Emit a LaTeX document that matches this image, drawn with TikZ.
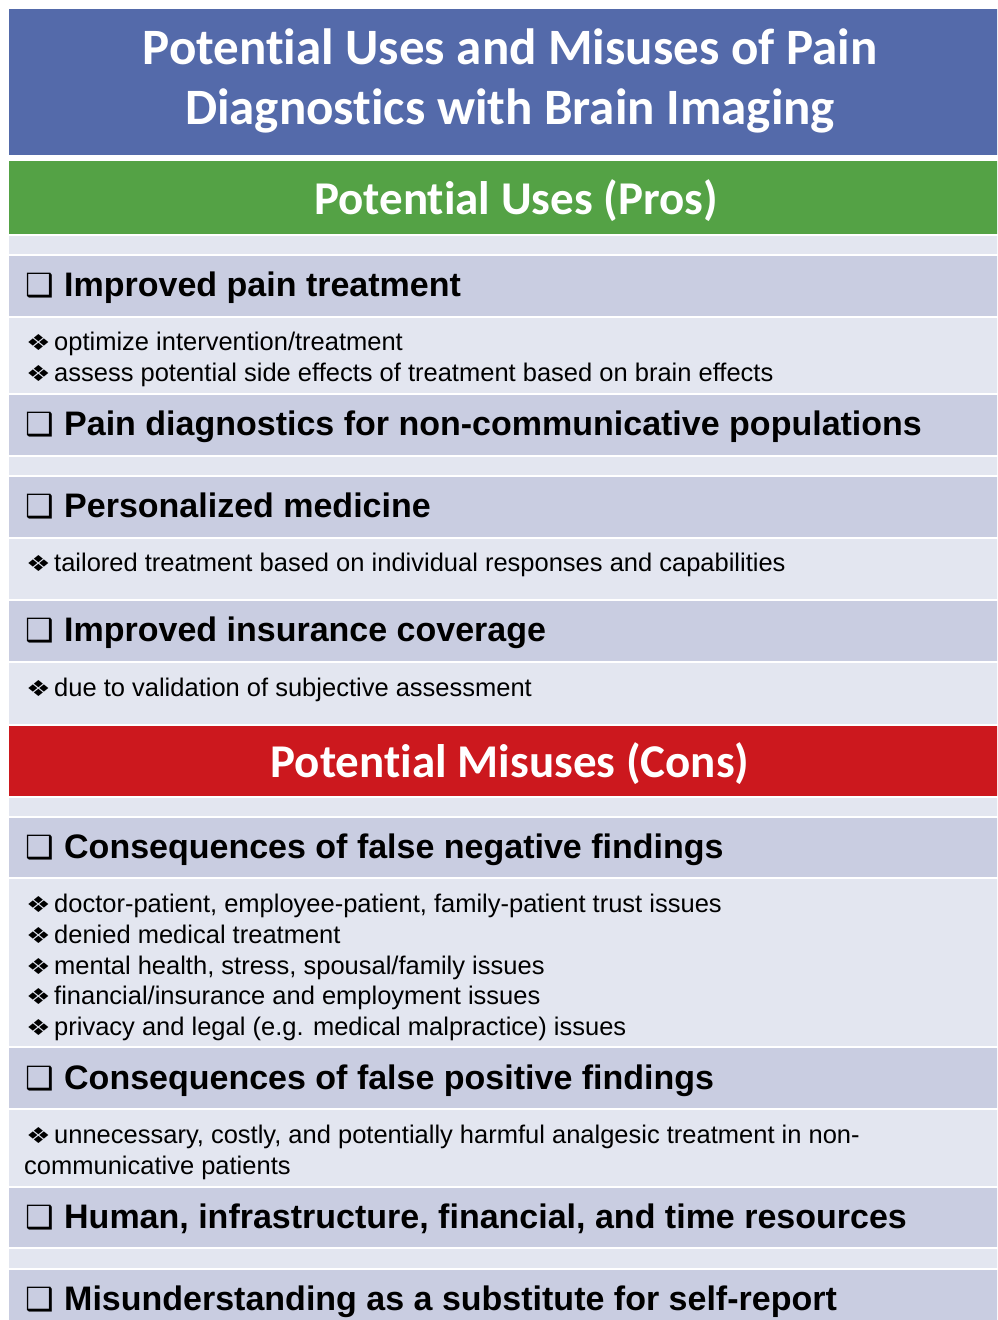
\documentclass[tikz,border=0pt]{standalone}
\usepackage{fontspec}
\setmainfont{Liberation Sans}
\newfontfamily\calfont[Ligatures=NoCommon]{Carlito}
\newfontfamily\symfont{DejaVu Sans}
\usetikzlibrary{positioning}
\definecolor{tblue}{RGB}{84,106,170}
\definecolor{tgreen}{RGB}{84,162,69}
\definecolor{tred}{RGB}{204,24,30}
\definecolor{hrow}{RGB}{201,205,225}
\definecolor{lrow}{RGB}{227,230,240}
\tikzset{
  bigtext/.style = {text = white, inner sep = 0, anchor = base,
    font = \calfont\bfseries\fontsize{51}{60}\selectfont},
  bandtext/.style = {bigtext, font = \calfont\bfseries\fontsize{47}{56}\selectfont},
  headtext/.style = {inner sep = 0, anchor = base west,
    font = \bfseries\fontsize{34}{40}\selectfont},
  bodytext/.style = {inner sep = 0, anchor = base west,
    font = \fontsize{25.5}{31}\selectfont},
  hrowfill/.style = {fill = hrow},
  lrowfill/.style = {fill = lrow}
}
\newcommand{\chkbox}{\makebox[39pt][l]{\symfont\fontsize{32}{32}\selectfont ❑}}
\newcommand{\dmd}{\makebox[28pt][l]{\scalebox{1.25}[1]{\symfont\fontsize{22}{22}\selectfont ❖}}}

\begin{document}
\begin{tikzpicture}[x = 1pt, y = -1pt]
      \useasboundingbox (0, 0) rectangle (997, 1320);
      \clip (0, 0) rectangle (997, 1320);

      % title and section bands
      \fill [tblue] (9, 9) rectangle (1011, 155);
      \fill [tgreen] (9, 161) rectangle (1011, 234);
      \fill [tred] (9, 726) rectangle (1011, 796);

      % table rows
      \fill [lrowfill] (9, 236) rectangle (1011, 254);
      \fill [hrowfill] (9, 256) rectangle (1011, 316);
      \fill [lrowfill] (9, 318) rectangle (1011, 393);
      \fill [hrowfill] (9, 395) rectangle (1011, 455);
      \fill [lrowfill] (9, 457) rectangle (1011, 475);
      \fill [hrowfill] (9, 477) rectangle (1011, 537);
      \fill [lrowfill] (9, 539) rectangle (1011, 599);
      \fill [hrowfill] (9, 601) rectangle (1011, 661);
      \fill [lrowfill] (9, 663) rectangle (1011, 724);

      \fill [lrowfill] (9, 798) rectangle (1011, 816);
      \fill [hrowfill] (9, 818) rectangle (1011, 877);
      \fill [lrowfill] (9, 879) rectangle (1011, 1046);
      \fill [hrowfill] (9, 1048) rectangle (1011, 1108);
      \fill [lrowfill] (9, 1110) rectangle (1011, 1186);
      \fill [hrowfill] (9, 1188) rectangle (1011, 1247);
      \fill [lrowfill] (9, 1249) rectangle (1011, 1268);
      \fill [hrowfill] (9, 1270) rectangle (1011, 1330);

      \node [bigtext] (title1) at (510, 64) {Potential Uses and Misuses of Pain};
      \node [bigtext] (title2) at (510, 124) {Diagnostics with Brain Imaging};
      \node [bandtext] (pros) at (516, 214) {Potential Uses (Pros)};
      \node [bandtext] (cons) at (510, 777) {Potential Misuses (Cons)};

      % pros
      \node [headtext] (treat) at (25, 296) {\chkbox Improved pain treatment};
      \node [bodytext] (treat1) at (26, 350) {\dmd optimize intervention/treatment};
      \node [bodytext] (treat2) at (26, 381) {\dmd assess potential side effects of treatment based on brain effects};

      \node [headtext] (noncom) at (25, 435) {\chkbox Pain diagnostics for non-communicative populations};

      \node [headtext] (person) at (25, 517) {\chkbox Personalized medicine};
      \node [bodytext] (person1) at (26, 571) {\dmd tailored treatment based on individual responses and capabilities};

      \node [headtext] (insur) at (25, 641) {\chkbox Improved insurance coverage};
      \node [bodytext] (insur1) at (26, 696) {\dmd due to validation of subjective assessment};

      % cons
      \node [headtext] (fneg) at (25, 858) {\chkbox Consequences of false negative findings};
      \node [bodytext] (fneg1) at (26, 912) {\dmd doctor-patient, employee-patient, family-patient trust issues};
      \node [bodytext] (fneg2) at (26, 943) {\dmd denied medical treatment};
      \node [bodytext] (fneg3) at (26, 974) {\dmd mental health, stress, spousal/family issues};
      \node [bodytext] (fneg4) at (26, 1004) {\dmd financial/insurance and employment issues};
      \node [bodytext] (fneg5) at (26, 1035) {\dmd privacy and legal (e.g. medical malpractice) issues};

      \node [headtext] (fpos) at (25, 1089) {\chkbox Consequences of false positive findings};
      \node [bodytext] (fpos1) at (26, 1143) {\dmd unnecessary, costly, and potentially harmful analgesic treatment in non-};
      \node [bodytext] (fpos2) at (24, 1174) {communicative patients};

      \node [headtext] (resour) at (25, 1228) {\chkbox Human, infrastructure, financial, and time resources};

      \node [headtext] (selfrep) at (25, 1310) {\chkbox Misunderstanding as a substitute for self-report};
    \end{tikzpicture}
\end{document}
